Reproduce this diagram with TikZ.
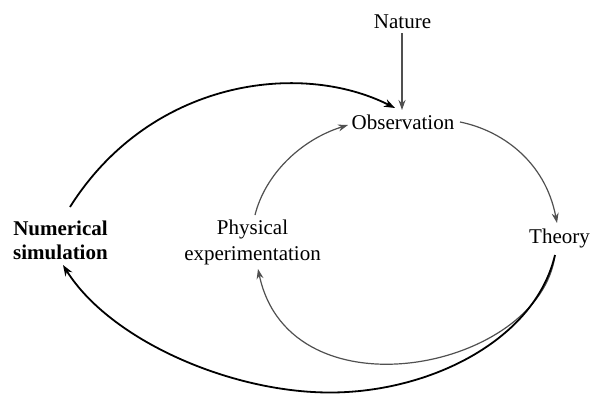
\documentclass[tikz,border=0pt]{standalone}
\usepackage{fontspec}
\setmainfont{Liberation Serif}
\usetikzlibrary{arrows.meta}
\definecolor{arcgray}{HTML}{505050}
\tikzset{
  lbl/.style={inner sep=0pt, font=\fontsize{21}{24}\selectfont, align=center, anchor=base},
  blackarc/.style={draw=black, line width=1.8pt, -{Stealth[length=11pt,width=8pt]}},
  grayarc/.style={draw=arcgray, line width=1.2pt, -{Stealth[length=10pt,width=7pt]}}
}
\begin{document}
\begin{tikzpicture}[x=1pt,y=-1pt]
\useasboundingbox (0,0) rectangle (591,394);
\fill[white] (0,0) rectangle (591,394);
% labels
\node[lbl] (nature) at (402.5,28) {Nature};
\node[lbl] (obs) at (403,129) {Observation};
\node[lbl] (theory) at (559.5,243) {Theory};
\node[lbl, font=\fontsize{21}{23.5}\selectfont\bfseries] (num) at (60.5,259.2) {Numerical\\simulation};
\node[lbl, font=\fontsize{21}{25.7}\selectfont] (phys) at (252.5,260) {Physical\\experimentation};
% connector end points
\coordinate (natS) at (402,33);
\coordinate (obsN) at (402,110);
\coordinate (obsNW) at (395,108);
\coordinate (obsW) at (348,125);
\coordinate (obsE) at (460,122);
\coordinate (thN) at (557,223);
\coordinate (thS) at (555,255);
\coordinate (physN) at (255,215);
\coordinate (physS) at (258,269);
\coordinate (numN) at (70,207);
\coordinate (numS) at (63,265);
\coordinate (bot) at (330,392.5);
% connectors
\draw[grayarc] (natS) -- (obsN);
\draw[blackarc] (numN) .. controls (150,80) and (300,60) .. (obsNW);
\draw[grayarc] (physN) .. controls (265,175) and (300,140) .. (obsW);
\draw[grayarc] (obsE) .. controls (500,130) and (545,160) .. (thN);
\draw[grayarc] (thS) .. controls (540,370) and (290,420) .. (physS);
\draw[blackarc] (thS) .. controls (535,340) and (430,392.5) .. (bot)
  .. controls (230,392.5) and (110,340) .. (numS);
\end{tikzpicture}
\end{document}
